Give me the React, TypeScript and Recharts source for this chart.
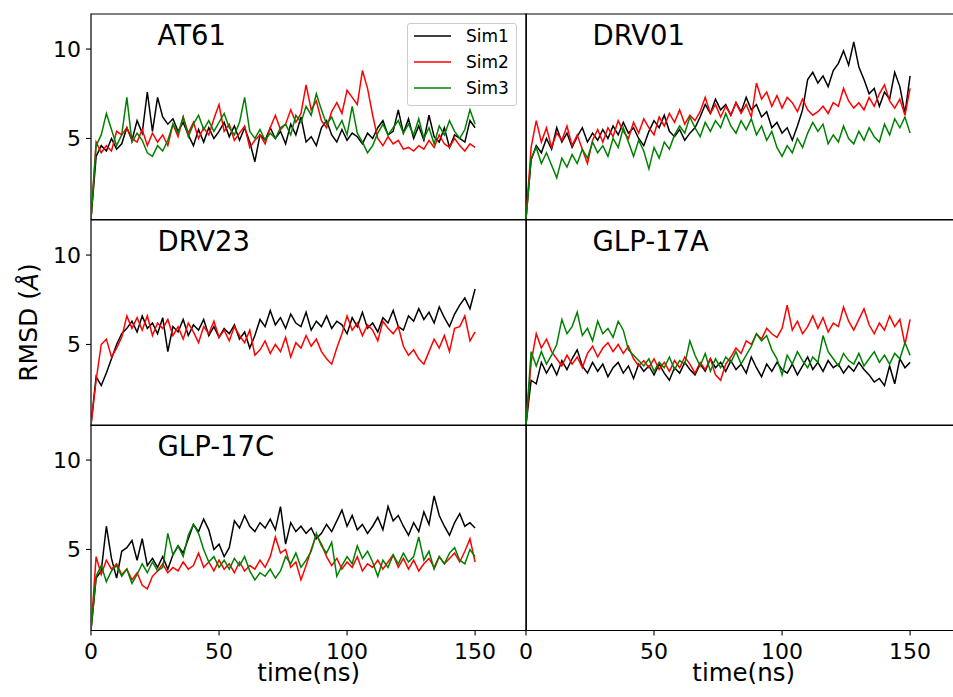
import { LineChart, Line, XAxis, YAxis, ReferenceArea, ReferenceDot } from "recharts"

// time axis (ns), one sample every 2 ns
const TIME = [
  0, 2, 4, 6, 8, 10, 12, 14, 16, 18,
  20, 22, 24, 26, 28, 30, 32, 34, 36, 38,
  40, 42, 44, 46, 48, 50, 52, 54, 56, 58,
  60, 62, 64, 66, 68, 70, 72, 74, 76, 78,
  80, 82, 84, 86, 88, 90, 92, 94, 96, 98,
  100, 102, 104, 106, 108, 110, 112, 114, 116, 118,
  120, 122, 124, 126, 128, 130, 132, 134, 136, 138,
  140, 142, 144, 146, 148, 150,
]

const SIM_NAMES = ["Sim1", "Sim2", "Sim3"]
const SIM_COLORS = ["#000000", "#ff0000", "#008000"]

const X_TICKS = [0, 50, 100, 150]
const Y_TICKS = [5, 10]

// RMSD values (Å)
const AT61_SIM1 = [
  0.5, 4.0, 4.6, 4.3, 5.0, 4.4, 4.7, 5.6, 4.9, 6.0,
  5.3, 7.6, 5.4, 7.3, 6.2, 5.8, 6.1, 5.4, 5.9, 5.2,
  4.6, 5.5, 4.8, 5.6, 5.0, 5.4, 5.9, 5.1, 5.7, 4.9,
  5.6, 4.8, 3.7, 5.2, 4.9, 5.6, 5.0, 5.4, 4.7, 5.8,
  5.2, 6.2, 4.8, 5.1, 4.6, 5.6, 6.0, 5.2, 4.8, 5.5,
  4.9, 5.3, 5.1, 4.7, 5.3, 5.0, 5.6, 6.0, 5.2, 5.4,
  6.6, 5.3, 6.1, 5.0, 5.7, 4.9, 6.3, 5.1, 4.8, 5.6,
  4.5, 5.2, 5.0, 4.8, 6.0, 5.6,
]
const AT61_SIM2 = [
  0.5, 4.8, 4.2, 4.6, 4.3, 5.4, 5.2, 5.6, 5.0, 4.8,
  5.5, 4.6, 5.3, 4.8, 5.2, 4.6, 5.8, 5.1, 6.2, 5.3,
  5.9, 5.0, 5.6, 5.2, 6.1, 6.9, 5.4, 5.8, 4.9, 5.3,
  5.7, 4.5, 4.9, 5.2, 4.7, 5.6, 6.3, 5.5, 5.8, 6.6,
  5.9, 6.4, 8.0, 6.6, 7.1, 6.0, 5.6, 6.5, 7.0, 6.4,
  7.7, 7.3, 6.9, 8.8, 7.8, 6.3, 5.0, 4.6, 5.1, 4.7,
  4.9, 4.4, 4.5, 4.3, 4.6, 4.4, 4.9, 4.5, 5.2, 4.7,
  4.5, 5.0, 4.6, 4.3, 4.7, 4.5,
]
const AT61_SIM3 = [
  0.5, 4.6, 5.2, 6.4, 5.5, 4.6, 5.2, 7.3, 4.8, 5.3,
  4.9, 4.2, 4.0, 4.6, 4.3, 4.9, 5.8, 5.3, 6.2, 5.1,
  5.8, 6.3, 5.5, 6.0, 5.4, 5.9, 6.4, 5.6, 5.2, 5.9,
  7.3, 5.4, 5.0, 5.5, 4.9, 5.3, 5.0, 5.6, 5.8, 5.2,
  6.3, 5.9, 6.8, 6.3, 7.5, 6.6, 5.8, 6.2, 5.5, 6.0,
  5.2, 6.8, 5.3, 4.8, 4.2, 4.6, 5.3, 5.8, 5.2, 5.6,
  6.0, 5.3, 5.8, 5.2, 6.1, 5.0, 5.6, 4.7, 5.7, 5.2,
  6.0, 5.4, 5.0, 5.5, 6.6, 5.8,
]

const DRV01_SIM1 = [
  0.5, 3.8, 4.6, 4.2, 5.0, 4.4, 5.6, 4.8, 5.3, 4.5,
  5.1, 5.6, 4.8, 5.3, 4.9, 5.5, 5.0, 5.7, 5.2, 5.9,
  5.3, 5.6, 5.0, 4.6, 5.4, 6.0, 5.6, 6.3, 5.4, 5.1,
  5.5, 4.9, 5.3, 5.6, 6.2, 6.9, 6.4, 7.2, 6.6, 6.9,
  6.3, 7.0, 6.5, 7.3, 6.6, 6.9, 6.2, 6.5, 5.6, 5.9,
  5.3, 5.6, 4.9, 5.7, 6.6, 8.3, 8.7, 8.1, 8.5, 7.9,
  8.8, 9.2, 9.9, 9.1, 10.4, 9.0, 8.3, 7.5, 7.8, 6.8,
  7.6, 7.2, 8.7, 7.9, 6.4, 8.5,
]
const DRV01_SIM2 = [
  0.5, 4.5, 6.0, 4.8, 5.6, 4.5, 5.3, 4.9, 5.7, 4.6,
  5.2, 4.4, 3.6, 4.9, 5.5, 4.8, 5.6, 5.1, 6.0, 5.4,
  5.0, 5.9, 5.3, 6.1, 5.6, 5.2, 6.2, 5.7, 6.4, 5.9,
  6.6, 5.8, 6.3, 6.0, 6.5, 7.3, 6.4, 6.9, 6.2, 6.8,
  6.3, 7.0, 6.4, 6.9, 6.2, 8.1, 7.2, 7.6, 6.8, 7.4,
  6.7, 7.3, 7.0, 6.5, 7.2, 6.6, 6.3, 6.5, 6.8, 6.4,
  7.0, 6.8, 7.8, 7.1, 6.7, 7.0, 6.6, 7.3, 6.8, 7.5,
  8.0, 7.1, 6.7, 7.2, 6.3, 7.8,
]
const DRV01_SIM3 = [
  0.5, 3.9, 4.5, 3.6, 4.2, 3.5, 2.8, 3.9, 3.4, 4.1,
  3.6, 4.4, 3.9, 4.8, 4.2, 4.6, 4.0, 5.0, 4.5, 5.6,
  4.8, 4.0, 4.9, 4.3, 3.3, 4.5, 3.9, 4.8, 4.4, 5.2,
  5.7, 5.3, 6.2, 5.6, 5.1, 5.9, 5.4, 6.0, 5.6, 6.4,
  5.7, 5.3, 6.0, 5.5, 6.1, 5.2, 5.7, 4.9, 5.4, 4.5,
  4.0, 4.6, 4.2, 5.0, 4.5, 5.3, 5.9, 5.4, 5.8, 4.7,
  5.2, 4.8, 5.7, 5.0, 4.7, 5.4, 4.9, 5.6, 5.1, 4.8,
  5.8, 5.2, 6.1, 5.6, 6.2, 5.3,
]

const DRV23_SIM1 = [
  0.5, 3.2, 2.7, 3.4, 4.2, 5.0, 5.6, 5.9, 6.3, 5.7,
  6.6, 5.9, 6.2, 5.6, 6.5, 4.6, 6.0, 5.7, 6.4, 5.5,
  6.1, 5.8, 6.4, 5.5, 6.0, 5.4, 5.9, 5.6, 6.1, 5.3,
  5.7, 4.8, 5.5, 6.4, 6.0, 6.9, 6.1, 6.5, 5.9, 6.7,
  6.2, 6.0, 6.8, 5.8, 6.3, 6.0, 6.6, 5.9, 6.3, 6.1,
  5.6, 6.5, 6.0, 6.8, 5.9, 6.2, 5.7, 6.5, 6.2, 6.9,
  6.0, 5.8, 6.6, 6.3, 7.0, 6.4, 6.8, 6.2, 7.1, 6.5,
  6.0, 6.7, 7.2, 7.6, 7.0, 8.1,
]
const DRV23_SIM2 = [
  0.5, 3.0, 5.0, 5.3, 4.3, 4.8, 5.4, 6.6, 5.9, 6.5,
  5.8, 6.6, 5.5, 6.2, 5.9, 6.4, 5.5, 6.0, 5.3, 6.2,
  5.7, 5.1, 6.0, 5.6, 6.3, 5.4, 5.8, 5.2, 6.0, 5.5,
  5.1, 5.8, 4.4, 4.7, 5.2, 4.5, 5.0, 4.6, 5.4, 4.3,
  5.1, 4.8, 5.5, 4.9, 5.3, 4.6, 4.2, 3.9, 4.8, 5.6,
  6.6, 5.8, 6.2, 5.5, 6.1, 5.8, 5.2, 6.3, 5.9, 5.6,
  6.0, 4.9, 4.4, 4.7, 4.2, 3.9, 4.6, 5.3, 4.8, 5.5,
  4.6, 5.9, 6.0, 6.6, 5.2, 5.7,
]

const GLP17A_SIM1 = [
  0.5, 3.0, 2.8, 4.0, 3.4, 3.9, 3.3, 4.1, 3.6, 4.2,
  4.7, 3.8, 3.4, 4.0, 3.5, 3.9, 3.2, 3.7, 4.0, 3.4,
  3.8, 3.1, 3.9, 3.5, 3.8, 3.3, 3.9, 3.4, 3.0, 3.7,
  3.4, 4.0, 3.6, 3.3, 3.9, 3.5, 4.2, 3.7, 4.0, 3.5,
  4.1, 3.6, 3.9, 3.4, 4.3, 3.7, 3.2, 3.9, 3.5, 4.0,
  3.6, 3.4, 3.9, 3.3, 3.8, 4.3, 3.6, 4.0, 3.5, 4.1,
  3.7, 3.9, 3.4, 3.8, 3.5, 4.0, 3.6, 3.3, 2.9, 3.1,
  2.7, 3.8, 2.8, 4.2, 3.7, 4.0,
]
const GLP17A_SIM2 = [
  0.5, 4.0, 5.6, 4.8, 5.3, 4.6, 4.2, 3.8, 4.4, 3.9,
  4.3, 3.7, 4.5, 4.9, 4.3, 4.8, 5.1, 4.6, 5.0, 4.5,
  4.9, 4.2, 3.8, 4.1, 3.7, 4.2, 3.6, 4.0, 3.5, 4.1,
  3.7, 4.3, 3.9, 3.4, 4.0, 3.6, 4.2, 3.3, 3.0, 3.9,
  4.3, 4.8, 4.5, 5.2, 5.0, 5.6, 5.3, 5.9, 5.6, 5.4,
  5.9, 7.2, 5.8, 6.3, 5.6, 6.0, 6.6, 5.9, 6.5, 5.7,
  6.2, 6.0, 7.1, 6.3, 5.8, 6.4, 7.0, 6.1, 5.6, 6.2,
  5.8, 6.6, 6.0, 6.4, 5.0, 6.4,
]
const GLP17A_SIM3 = [
  0.5, 4.6, 3.8, 4.6, 3.9, 4.4, 5.0, 6.4, 5.6, 6.0,
  6.8, 5.5, 5.9, 5.2, 6.3, 5.6, 5.9, 5.4, 6.3, 5.8,
  4.7, 4.4, 4.1, 3.8, 4.2, 3.5, 4.0, 3.7, 4.3, 3.6,
  4.1, 3.9, 5.2, 4.4, 3.8, 4.5, 3.5, 4.2, 3.7, 4.3,
  4.0, 4.6, 3.9, 4.4, 4.9, 5.6, 5.2, 5.5, 4.7, 4.2,
  3.3, 4.4, 3.9, 4.6, 4.1, 3.7, 4.3, 4.0, 5.5, 4.6,
  4.2, 3.8, 4.5, 4.1, 3.9, 4.5, 3.8, 4.2, 4.6, 4.0,
  4.4, 3.9, 4.5, 4.2, 5.1, 4.4,
]

const GLP17C_SIM1 = [
  0.5, 3.4, 3.8, 6.3, 4.5, 3.4, 4.9, 5.1, 5.5, 4.4,
  5.6, 4.1, 4.5, 4.0, 4.6, 3.9, 4.7, 5.2, 4.8, 5.6,
  6.4, 6.0, 6.7, 6.1, 5.0, 5.3, 4.6, 5.1, 6.6, 6.2,
  6.9, 6.3, 6.0, 6.5, 6.2, 6.7, 6.1, 7.4, 5.3, 6.5,
  6.0, 6.3, 5.9, 6.2, 5.6, 5.9, 6.4, 6.0, 6.6, 7.2,
  6.3, 6.9, 6.1, 6.4, 5.9, 6.3, 6.8, 6.1, 7.4, 6.6,
  6.9, 6.3, 5.8, 6.5, 6.0, 7.1, 6.4, 8.0, 6.9, 6.3,
  5.8, 6.5, 7.0, 6.3, 6.5, 6.2,
]
const GLP17C_SIM2 = [
  0.5, 4.6, 3.6, 4.4, 3.9, 4.2, 3.6, 3.9, 3.3, 3.7,
  3.0, 2.8, 3.5, 3.8, 4.2, 3.7, 4.0, 3.8, 4.3, 3.9,
  4.1, 4.8, 4.0, 4.3, 3.8, 4.4, 3.9, 4.2, 3.7, 4.3,
  3.8, 4.1, 3.9, 4.4, 4.0, 4.6, 5.7, 4.8, 5.0, 4.0,
  4.3, 3.3, 4.1, 5.0, 5.8, 5.3, 4.6, 4.1, 4.5, 3.9,
  4.3, 4.0, 4.6, 3.8, 4.2, 4.0, 4.4, 3.9, 4.3, 4.7,
  4.0, 4.5, 3.9, 4.4, 3.8, 4.2, 4.5, 4.0, 4.6, 4.2,
  4.5, 4.8, 4.3, 4.9, 5.6, 4.3,
]
const GLP17C_SIM3 = [
  0.5, 3.5, 4.1, 3.2, 3.8, 4.1, 3.5, 3.9, 3.1, 3.6,
  4.2, 3.7, 4.3, 3.8, 4.0, 5.9, 4.7, 5.2, 4.6, 5.8,
  6.4, 5.9, 5.0, 4.3, 4.6, 4.0, 4.4, 3.9, 4.5, 4.1,
  4.6, 3.8, 3.3, 3.7, 3.5, 3.9, 3.4, 3.8, 4.6, 4.2,
  4.8, 4.0, 4.4, 4.9, 5.9, 5.2, 4.8, 5.4, 3.5, 4.1,
  4.6, 4.2, 5.2, 4.5, 4.9, 4.3, 3.5, 4.4, 4.0, 4.7,
  4.2, 4.8, 4.3, 4.6, 5.7, 4.4, 4.9, 3.9, 4.6, 4.2,
  4.8, 5.1, 4.4, 4.2, 5.0, 4.6,
]

const PANELS = [
  { title: "AT61", row: 0, col: 0, series: [AT61_SIM1, AT61_SIM2, AT61_SIM3] },
  { title: "DRV01", row: 0, col: 1, series: [DRV01_SIM1, DRV01_SIM2, DRV01_SIM3] },
  { title: "DRV23", row: 1, col: 0, series: [DRV23_SIM1, DRV23_SIM2] },
  { title: "GLP-17A", row: 1, col: 1, series: [GLP17A_SIM1, GLP17A_SIM2, GLP17A_SIM3] },
  { title: "GLP-17C", row: 2, col: 0, series: [GLP17C_SIM1, GLP17C_SIM2, GLP17C_SIM3] },
  { title: "", row: 2, col: 1, series: [] as number[][] },
]

const FONT = "DejaVu Sans"
const X_MAX = 170
const Y_MIN = 0.47
const Y_MAX = 11.96
const PLOT_W = 435.3
const PLOT_H = 205.5
const COL_LEFT = [90.7, 526]
const ROW_TOP = [14, 219.5, 425]
const X_AXIS_H = 64

const buildRows = (series: number[][]) =>
  TIME.map((t, i) => {
    const row: Record<string, number> = { t }
    series.forEach((s, k) => {
      row["s" + k] = s[i]
    })
    return row
  })

const Panel = ({ panel }: { panel: (typeof PANELS)[number] }) => {
  const bottom = panel.row === 2
  const yw = panel.col === 0 ? 60 : 8
  const width = yw + PLOT_W + 2
  const height = 2 + PLOT_H + (bottom ? X_AXIS_H : 2)
  const rows = buildRows(panel.series)

  return (
    <div style={{ position: "absolute", left: COL_LEFT[panel.col] - yw, top: ROW_TOP[panel.row] - 2 }}>
      <LineChart width={width} height={height} data={rows} margin={{ top: 2, right: 2, bottom: bottom ? 0 : 2, left: 0 }}>
        <XAxis
          type="number"
          dataKey="t"
          domain={[0, X_MAX]}
          ticks={X_TICKS}
          allowDataOverflow
          hide={!bottom}
          height={X_AXIS_H}
          axisLine={false}
          tickSize={5}
          tickMargin={8}
          tickLine={{ stroke: "#000", strokeWidth: 1.1 }}
          tick={{ fontSize: 22, fill: "#000", fontFamily: FONT }}
          label={(props: any) => {
            const vb = props.viewBox
            return (
              <text x={vb.x + vb.width / 2} y={vb.y + 51} textAnchor="middle" fontSize={24.5} fontFamily={FONT} fill="#000">
                time(ns)
              </text>
            )
          }}
        />
        <YAxis
          type="number"
          domain={[Y_MIN, Y_MAX]}
          ticks={Y_TICKS}
          allowDataOverflow
          width={yw}
          axisLine={false}
          tickSize={5}
          tickMargin={5}
          tickLine={{ stroke: "#000", strokeWidth: 1.1 }}
          tick={panel.col === 0 ? { fontSize: 22, fill: "#000", fontFamily: FONT } : false}
        />
        {panel.series.map((_, k) => (
          <Line
            key={k}
            type="linear"
            dataKey={"s" + k}
            name={SIM_NAMES[k]}
            stroke={SIM_COLORS[k]}
            strokeWidth={1.5}
            dot={false}
            isAnimationActive={false}
          />
        ))}
        <ReferenceArea
          x1={0}
          x2={X_MAX}
          y1={Y_MIN}
          y2={Y_MAX}
          fill="none"
          fillOpacity={0}
          stroke="#000"
          strokeWidth={1.2}
          ifOverflow="visible"
        />
        {panel.title && (
          <ReferenceDot
            x={26}
            y={10.25}
            r={0}
            ifOverflow="visible"
            shape={(p: any) => (
              <text x={p.cx} y={p.cy} fontSize={27.5} fontFamily={FONT} fill="#000">
                {panel.title}
              </text>
            )}
          />
        )}
      </LineChart>
    </div>
  )
}

const Legend = () => (
  <div
    style={{
      position: "absolute",
      left: 407,
      top: 23,
      width: 110,
      height: 83,
      boxSizing: "border-box",
      border: "1px solid #cccccc",
      borderRadius: 3,
      background: "rgba(255,255,255,0.8)",
    }}
  >
    <svg width={110} height={83}>
      {SIM_NAMES.map((name, i) => (
        <g key={name}>
          <line x1={6} x2={43} y1={12 + i * 26} y2={12 + i * 26} stroke={SIM_COLORS[i]} strokeWidth={1.5} />
          <text x={58} y={12 + i * 26} dominantBaseline="central" fontSize={17} fontFamily={FONT} fill="#000">
            {name}
          </text>
        </g>
      ))}
    </svg>
  </div>
)

const App = () => {
  return (
    <div
      style={{
        position: "fixed",
        left: 0,
        top: 0,
        width: 953,
        height: 697,
        overflow: "hidden",
        background: "#fff",
      }}
    >
      {PANELS.map((p) => (
        <Panel key={p.row + "-" + p.col} panel={p} />
      ))}
      <Legend />
      <svg style={{ position: "absolute", left: 0, top: 0 }} width={60} height={697}>
        <text
          x={28.5}
          y={322.5}
          transform="rotate(-90 28.5 322.5)"
          textAnchor="middle"
          dominantBaseline="central"
          fontSize={25}
          fontFamily={FONT}
          fill="#000"
        >
          RMSD (<tspan fontStyle="italic">Å</tspan>)
        </text>
      </svg>
    </div>
  )
}

export default App
